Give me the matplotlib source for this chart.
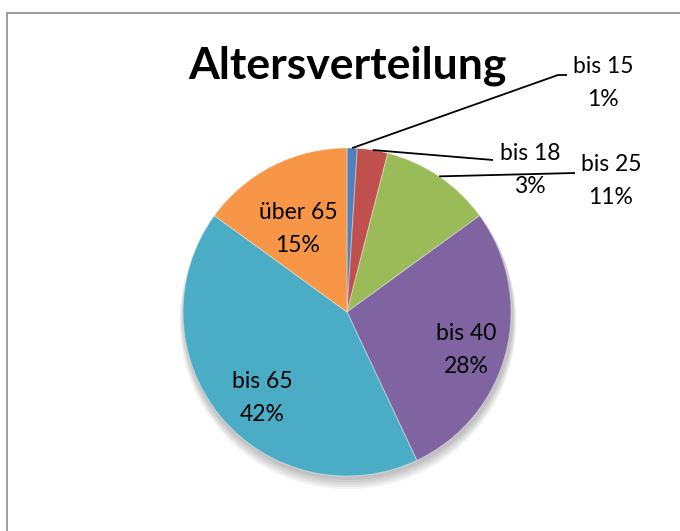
import numpy as np
import matplotlib
matplotlib.use("Agg")
import matplotlib.pyplot as plt
from matplotlib.patches import Rectangle, Circle

plt.rcParams['font.family'] = ['Lato', 'DejaVu Sans']

title = "Altersverteilung"
categories = ["bis 15", "bis 18", "bis 25", "bis 40", "bis 65", "über 65"]
values = [1, 3, 11, 28, 42, 15]
colors = ["#4F81BD", "#C0504D", "#9BBB59", "#8064A2", "#4BACC6", "#F79646"]

W, H = 680, 531
fig = plt.figure(figsize=(W / 100, H / 100), dpi=100)
ax = fig.add_axes([0, 0, 1, 1])
ax.set_xlim(0, W)
ax.set_ylim(0, H)
ax.set_aspect('equal')
ax.axis('off')

# chart frame (cropped at right and bottom)
ax.add_patch(Rectangle((6.5, -10), 700, H - 12.5 + 10, fill=False,
                       edgecolor="#8c8c8c", linewidth=1.2, zorder=0))

cx, cy, r = 347, H - 312, 164

# soft shadow
for i in range(5):
    ax.add_patch(Circle((cx + 1, cy - 3 - i * 1.5), r + 1 + i * 0.8,
                        color="black", alpha=0.05, linewidth=0, zorder=1))

wedges, _ = ax.pie(values, colors=colors, startangle=90, counterclock=False,
                   center=(cx, cy), radius=r,
                   wedgeprops=dict(edgecolor=(1, 1, 1, 0.35), linewidth=0.8),
                   frame=True)
for w in wedges:
    w.set_zorder(2)
ax.set_xlim(0, W)
ax.set_ylim(0, H)
ax.axis('off')

total = sum(values)
fs = 16.5
ls = 1.72
# inside labels
inside = {3: (466, H - 350), 4: (262, H - 398), 5: (298, H - 229)}
for i, (x, y) in inside.items():
    ax.text(x, y, f"{categories[i]}\n{round(values[i] / total * 100)}%",
            ha='center', va='center', fontsize=fs, linespacing=ls,
            color='black', zorder=5)

# outside labels with leader lines
outside = {0: ((603, H - 83), (558, H - 75), (567, H - 75)),
           1: ((530, H - 170), (493, H - 160), (493, H - 160)),
           2: ((611, H - 181), (575, H - 173), (575, H - 173))}
cum = np.cumsum([0] + values)
for i, (txt, p1, p2) in outside.items():
    mid = (cum[i] + values[i] / 2) / total * 360
    ang = np.deg2rad(90 - mid)
    sx, sy = cx + r * np.cos(ang), cy + r * np.sin(ang)
    ax.plot([sx, p1[0], p2[0]], [sy, p1[1], p2[1]], color='black',
            linewidth=1.3, zorder=4, solid_capstyle='butt')
    ax.text(txt[0], txt[1], f"{categories[i]}\n{round(values[i] / total * 100)}%",
            ha='center', va='center', fontsize=fs, linespacing=ls,
            color='black', zorder=5)

ax.text(347, H - 66, title, ha='center', va='center', fontsize=32,
        fontweight='bold', color='black', zorder=5)

fig.savefig("out.png", dpi=100)
